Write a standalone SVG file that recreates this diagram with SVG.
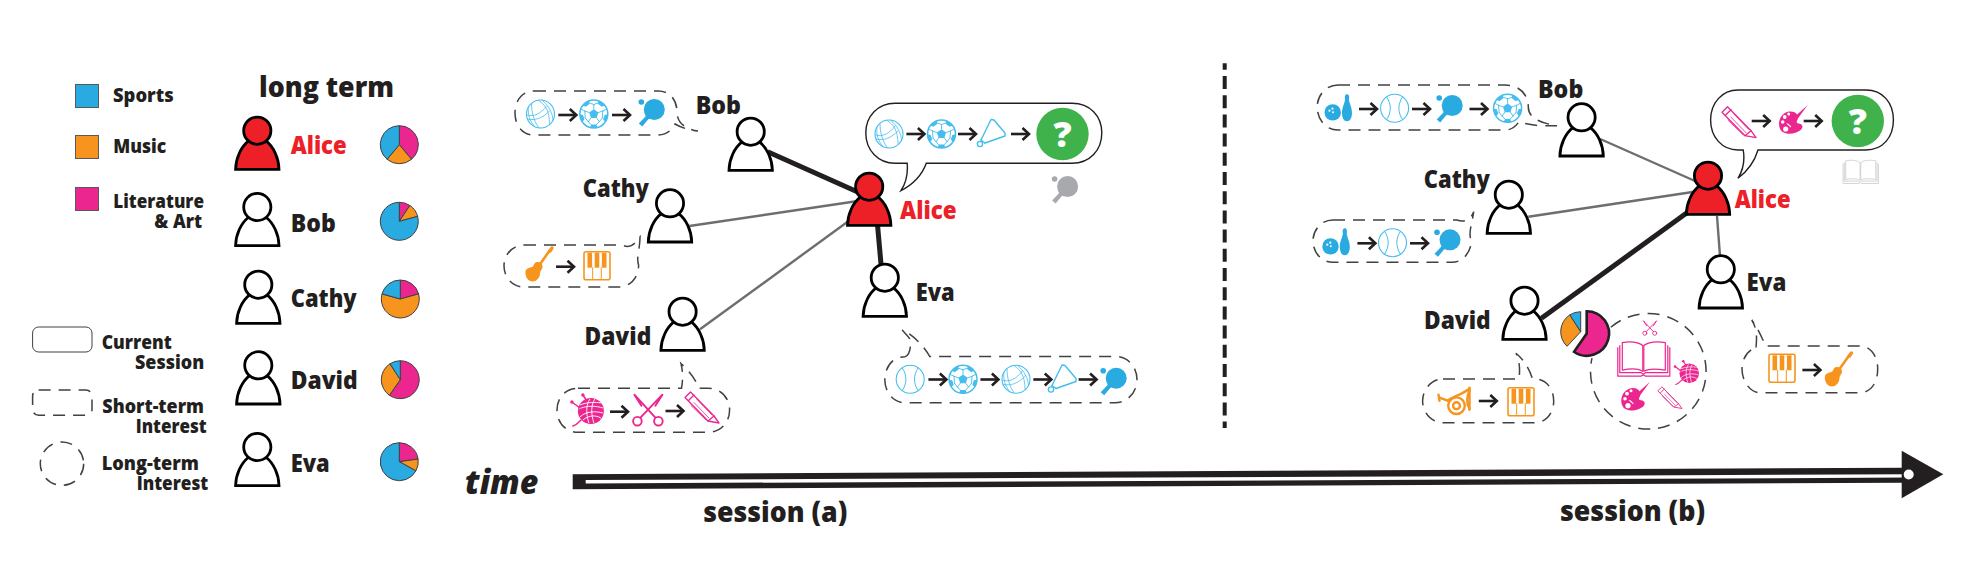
<svg xmlns="http://www.w3.org/2000/svg" width="1972" height="570" viewBox="0 0 1972 570">
<style>
text{font-family:"Open Sans","Noto Sans",sans-serif;font-weight:800;fill:#231F20}
.leg{font-size:19.5px}
.nm{font-size:25px}
.ti{font-size:28.5px}
.red{fill:#ED2027}
.blue{color:#29ABE2}
.lblue{color:#45BDEE}
.or{color:#F7941D}
.pk{color:#EC268F}
.gy{color:#A7A9AC}
.lg{color:#C9CBCD}
.w{fill:#fff}
.r{fill:#ED2027}
.dash{fill:#fff;stroke:#414042;stroke-width:1.5;stroke-dasharray:12 8}
.sol{fill:#fff;stroke:#231F20;stroke-width:1.4}
.edge{stroke-linecap:butt;fill:none}
.thick{stroke:#231F20;stroke-width:5}
.thin{stroke:#6D6E71;stroke-width:2.4}
.pie path{stroke:#414042;stroke-width:1}
.s{fill:#29ABE2}.m{fill:#F7941D}.l{fill:#EC268F}
.ico{fill:none;stroke:currentColor;stroke-linecap:round;stroke-linejoin:round}
.fil{fill:currentColor;stroke:none}
</style>
<defs>
<g id="person" stroke="#000" stroke-width="2.8" stroke-miterlimit="6"><path d="M-21.7,38.7C-21.5,27-16,16-9,10.5L9,10.5C16,16 21.5,27 21.7,38.7Z"/><circle r="13.6"/></g>
<g id="arw" fill="none" stroke="#231F20" stroke-width="2.6"><path d="M0,0H17"/><path d="M11.5,-6L18,0L11.5,6"/></g>
<g id="vball"><circle r="14" fill="#fff" stroke="currentColor" stroke-width="1.1"/><g class="ico" stroke-width=".8"><path d="M-2,-13.8C5,-9 9,-3 9,9.5"/><path d="M2,-13.5C8,-8 12,-2 12.5,6"/><path d="M-13,5C-5,7 2,4 9,-3"/><path d="M-13.5,1C-6,3 0,0 6,-8"/><path d="M-9,-10C-9,-2-7,6-2,13.5"/><path d="M-12,-7C-13,0-11,7-6,12.5"/></g></g>
<g id="soccer"><circle r="14" fill="#fff" stroke="currentColor" stroke-width="1.5"/><path class="fil" d="M0,-4.8L4.6,-1.5L2.8,3.9H-2.8L-4.6,-1.5Z"/><g class="fil"><path d="M-4,-13.4A14,14 0 0 1 4,-13.4L2.4,-10.6H-2.4Z" transform="rotate(36)"/><path d="M-4,-13.4A14,14 0 0 1 4,-13.4L2.4,-10.6H-2.4Z" transform="rotate(108)"/><path d="M-4,-13.4A14,14 0 0 1 4,-13.4L2.4,-10.6H-2.4Z" transform="rotate(180)"/><path d="M-4,-13.4A14,14 0 0 1 4,-13.4L2.4,-10.6H-2.4Z" transform="rotate(252)"/><path d="M-4,-13.4A14,14 0 0 1 4,-13.4L2.4,-10.6H-2.4Z" transform="rotate(324)"/></g><g class="ico" stroke-width=".9"><path d="M0,-5V-9.5"/><path d="M4.6,-1.5L9,-3"/><path d="M2.8,3.9L5.5,7.7"/><path d="M-2.8,3.9L-5.5,7.7"/><path d="M-4.6,-1.5L-9,-3"/><path d="M0,-9.5L-5.5,-11.5M0,-9.5L5.5,-11.5M9,-3L12.8,-5M9,-3L8.5,4M5.5,7.7L8.5,4M5.5,7.7L1,12.5M-5.5,7.7L-1,12.5M-5.5,7.7L-8.5,4M-9,-3L-8.5,4M-9,-3L-12.8,-5"/></g></g>
<g id="bball"><circle r="14" fill="#fff" stroke="currentColor" stroke-width="1.1"/><g class="ico" stroke-width="1"><path d="M-8,-11.5C-3,-4-3,4-8,11.5"/><path d="M8,-11.5C3,-4 3,4 8,11.5"/></g></g>
<g id="paddle"><circle class="fil" cx="3" cy="-3.5" r="10.5"/><path class="fil" d="M-5.5,0L-1.5,6L-3,6.3L-9,13.5L-12.5,10.5L-5.8,3.5Z"/><circle class="fil" cx="-10" cy="-11" r="2.8"/></g>
<g id="shuttle" class="ico" stroke-width="1.4"><path d="M-11,7L-1,-13.5L2,-13L13,0L13,3L-7,10"/><path d="M-11,7L-7,10"/><circle cx="-12" cy="11" r="2.6"/></g>
<g id="bowl"><circle class="fil" cx="-5.3" cy="4.7" r="8.2"/><path class="fil" d="M9,-13.5C11,-13.5 11.5,-11 11,-9C10.5,-6 14,-1 14,5C14,10 12,13.5 9,13.5C6,13.5 4,10 4,5C4,-1 7.5,-6 7,-9C6.5,-11 7,-13.5 9,-13.5Z"/><circle cx="-5.5" cy="1" r="1.1" fill="#fff"/><circle cx="-8.5" cy="3" r="1.1" fill="#fff"/><circle cx="-5" cy="4.5" r="1" fill="#fff"/></g>
<g id="guitar"><path class="fil" d="M-2,-3C2,-3 4,-1 3.5,2.5C3,5 1,5.5 1,8.5C1,13-3,17-7,16.5C-12,16-14,10-13.5,6.5C-13,3-9,2.5-7,2C-5,1.5-5,-3-2,-3Z"/><path class="ico" stroke-width="2.6" d="M-1,2L11,-15"/><path class="ico" stroke-width="3.4" d="M11,-14L13,-17"/></g>
<g id="piano"><rect x="-13" y="-14" width="26" height="28" rx="2" fill="#fff" stroke="currentColor" stroke-width="1.6"/><g class="fil"><rect x="-9.5" y="-13" width="4.6" height="15"/><rect x="-2.3" y="-13" width="4.6" height="15"/><rect x="4.9" y="-13" width="4.6" height="15"/></g><g class="ico" stroke-width="1"><path d="M-4.3,2V13.5M4.3,2V13.5"/></g></g>
<g id="yarn"><circle class="fil" cx="3" cy="1" r="13"/><g fill="none" stroke="#fff" stroke-width=".9"><path d="M-8,-5C-1,-8 8,-8 13,-7"/><path d="M-9,-1C-1,-5 9,-4 15,-2"/><path d="M-8,7C-2,1 8,1 15,3"/><path d="M-5,10C1,5 8,5 13,8"/><path d="M2,-11C-2,-5-2,4 1,13"/><path d="M7,-11C3,-5 3,4 6,13"/></g><g class="ico" stroke-width="1.5"><path d="M-16,-8L-8,-2"/><path d="M-5,-15L-1,-9"/><path d="M-15,16C-11,15-9,12-7,10"/></g><circle class="fil" cx="-16" cy="-8" r="1.7"/><circle class="fil" cx="-5" cy="-15" r="1.7"/></g>
<g id="scissors" class="ico" stroke-width="1.9"><circle cx="-11" cy="10.5" r="4.3"/><circle cx="10" cy="10.5" r="4.3"/><path d="M-8,7L14,-16L7,-5"/><path d="M7,7L-14,-16L-7,-5"/></g>
<g id="pencil" class="ico" stroke-width="1.3"><path fill="#fff" d="M-17,-10.5L-11.5,-16L12,8L17,15L6,13Z"/><path d="M-13.5,-7.5L-8,-13"/><path d="M-8,-5.5L7,10M-5,-8.5L10,7M-11,-2.5L4,12" stroke-width=".8"/><path d="M6,13L12,8"/></g>
<g id="palette"><path class="fil" d="M-4,-8.5C4,-9.5 6,-4 5,-1C4,2 3,3 6,3.5C10,4 11,7 8,10C3,14-5,15-10,12C-16,8-15,-6-4,-8.5Z"/><circle cx="-8" cy="-3" r="1.9" fill="#fff"/><circle cx="-4" cy="-6" r="1.5" fill="#fff"/><circle cx="-10" cy="2" r="1.8" fill="#fff"/><circle cx="-7" cy="9" r="2.6" fill="#fff"/><path d="M-6.5,3.5L-2,7.5L1,3Z" fill="#fff"/><path class="fil" d="M-5,3L15,-15L-1,7Z"/></g>
<g id="book" class="ico" stroke-width="1.2"><path d="M-25.5,-12V16.5H-2C-1,15 1,15 2,16.5H26.5V-12"/><path d="M-23.5,-14V13H-2L0,14.5L2,13H24.5V-14"/><path d="M-21,-17C-14,-18.5-5,-18-0.5,-14V11.5C-5,9-14,9-21,10.5Z"/><path d="M22,-17C15,-18.5 5,-18 0.5,-14V11.5C5,9 14,9 22,10.5Z"/></g>
<g id="horn" class="ico" stroke-width="2.4"><path d="M-16,-4L-8,-1C-3,-5 6,-7 14,-13"/><path d="M14,-14V8"/><path d="M14,-12C12,-5 10,1 14,7"/><circle cx="1" cy="4" r="8.3"/><circle cx="1" cy="4" r="3.4"/><path d="M-17,-7L-16,-1"/></g>
</defs>

<g id="legend">
<g id="legend-sports"><rect x="75.5" y="84.5" width="23" height="23" class="s" stroke="#58595B"/><text class="leg" x="113" y="101.7" textLength="60.7" lengthAdjust="spacingAndGlyphs">Sports</text></g>
<g id="legend-music"><rect x="75.5" y="135.5" width="23" height="23" class="m" stroke="#58595B"/><text class="leg" x="113.3" y="152.7" textLength="53" lengthAdjust="spacingAndGlyphs">Music</text></g>
<g id="legend-lit"><rect x="75.5" y="187.5" width="23" height="23" class="l" stroke="#58595B"/><text class="leg" x="113.3" y="207.7" textLength="90.7" lengthAdjust="spacingAndGlyphs">Literature</text><text class="leg" x="154.3" y="227.7" textLength="47.7" lengthAdjust="spacingAndGlyphs">&amp; Art</text></g>
<g id="legend-current"><rect x="32.6" y="327" width="59.4" height="25" rx="6" fill="#fff" stroke="#414042" stroke-width="1"/><text class="leg" x="101.7" y="349" textLength="70" lengthAdjust="spacingAndGlyphs">Current</text><text class="leg" x="135" y="369.3" textLength="69.3" lengthAdjust="spacingAndGlyphs">Session</text></g>
<g id="legend-short"><rect x="32.6" y="390" width="59.4" height="25.3" rx="6" class="dash"/><text class="leg" x="102.3" y="412.7" textLength="101.7" lengthAdjust="spacingAndGlyphs">Short-term</text><text class="leg" x="135.7" y="432.7" textLength="71" lengthAdjust="spacingAndGlyphs">Interest</text></g>
<g id="legend-long"><circle cx="62" cy="463.7" r="21.7" class="dash"/><text class="leg" x="101.7" y="470" textLength="97.3" lengthAdjust="spacingAndGlyphs">Long-term</text><text class="leg" x="136.7" y="490" textLength="71.6" lengthAdjust="spacingAndGlyphs">Interest</text></g>
<text x="259" y="97.3" class="ti" textLength="135" lengthAdjust="spacingAndGlyphs">long term</text>
</g>

<g id="lt-alice"><use href="#person" class="r" x="257.3" y="130.7"/><text class="nm red" x="290.7" y="154.3" textLength="56" lengthAdjust="spacingAndGlyphs">Alice</text>
<g class="pie" transform="translate(399.3,144.7)"><path class="l" d="M0,0V-19A19,19 0 0 1 12.2,14.6Z"/><path class="m" d="M0,0L12.2,14.6A19,19 0 0 1 -12.2,14.6Z"/><path class="s" d="M0,0L-12.2,14.6A19,19 0 0 1 0,-19Z"/></g></g>
<g id="lt-bob"><use href="#person" class="w" x="257.3" y="207"/><text class="nm" x="290.7" y="231.7" textLength="45" lengthAdjust="spacingAndGlyphs">Bob</text>
<g class="pie" transform="translate(399.3,221.3)"><path class="l" d="M0,0V-19A19,19 0 0 1 10.6,-15.8Z"/><path class="m" d="M0,0L10.6,-15.8A19,19 0 0 1 18.35,-4.9Z"/><path class="s" d="M0,0L18.35,-4.9A19,19 0 1 1 0,-19Z"/></g></g>
<g id="lt-cathy"><use href="#person" class="w" x="258.3" y="284.7"/><text class="nm" x="290.7" y="306.7" textLength="66" lengthAdjust="spacingAndGlyphs">Cathy</text>
<g class="pie" transform="translate(400.3,299)"><path class="l" d="M0,0V-19A19,19 0 0 1 18.3,-5.1Z"/><path class="m" d="M0,0L18.3,-5.1A19,19 0 1 1 -18.3,-5.1Z"/><path class="s" d="M0,0L-18.3,-5.1A19,19 0 0 1 0,-19Z"/></g></g>
<g id="lt-david"><use href="#person" class="w" x="258.3" y="365.3"/><text class="nm" x="290.7" y="389" textLength="67" lengthAdjust="spacingAndGlyphs">David</text>
<g class="pie" transform="translate(400.3,379.7)"><path class="l" d="M0,0V-19A19,19 0 1 1 -10.9,15.6Z"/><path class="m" d="M0,0L-10.9,15.6A19,19 0 0 1 -10.3,-15.9Z"/><path class="s" d="M0,0L-10.3,-15.9A19,19 0 0 1 0,-19Z"/></g></g>
<g id="lt-eva"><use href="#person" class="w" x="257.3" y="447"/><text class="nm" x="290.7" y="471.7" textLength="39" lengthAdjust="spacingAndGlyphs">Eva</text>
<g class="pie" transform="translate(399.3,461.7)"><path class="l" d="M0,0V-19A19,19 0 0 1 18.8,-2.6Z"/><path class="m" d="M0,0L18.8,-2.6A19,19 0 0 1 16.6,9.2Z"/><path class="s" d="M0,0L16.6,9.2A19,19 0 1 1 0,-19Z"/></g></g>

<g id="connectors">
<path class="edge thick" d="M767.6,151.7L860,193"/>
<path class="edge thin" d="M689.4,226L858,201"/>
<path class="edge thin" d="M700,329.3L848,221.5"/>
<path class="edge thick" d="M877.6,226L881,264"/>
<path class="edge thin" d="M1600.2,139L1695,181"/>
<path class="edge thin" d="M1528.3,216.7L1696,191.5"/>
<path class="edge thick" d="M1541.4,318.3L1688,212"/>
<path class="edge thin" d="M1717,216L1720,256"/>
</g>

<g id="session-a">
<g id="a-bob"><use href="#person" class="w" x="750.7" y="131.7"/><text class="nm" x="695.7" y="114.3" textLength="45.3" lengthAdjust="spacingAndGlyphs">Bob</text></g>
<g id="a-cathy"><use href="#person" class="w" x="670" y="203.3"/><text class="nm" x="582.8" y="196.7" textLength="66.2" lengthAdjust="spacingAndGlyphs">Cathy</text></g>
<g id="a-david"><use href="#person" class="w" x="682.6" y="311.7"/><text class="nm" x="584.5" y="345.3" textLength="66.8" lengthAdjust="spacingAndGlyphs">David</text></g>
<g id="a-eva"><use href="#person" class="w" x="884.8" y="277.7"/><text class="nm" x="915.7" y="300.7" textLength="39" lengthAdjust="spacingAndGlyphs">Eva</text></g>
<g id="a-alice"><use href="#person" class="r" x="869.2" y="186.7"/><text class="nm red" x="900" y="219.3" textLength="56.7" lengthAdjust="spacingAndGlyphs">Alice</text></g>

<g id="a-bob-bubble"><path class="dash" d="M534,91H658C670,91 677,100 677,112C677,122 684,129 698,131C688,130 680,127 675,124C672,129 668,135 658,135H534C522,135 515,125 515,113C515,101 522,91 534,91Z"/>
<use href="#vball" class="lblue" x="540.5" y="114"/><use href="#arw" x="558.3" y="115"/><use href="#soccer" class="lblue" x="593.8" y="114"/><use href="#arw" x="612" y="115"/><use href="#paddle" class="blue" x="651.3" y="113"/></g>

<g id="a-alice-bubble"><path class="sol" d="M895,103.3H1072C1090,103.3 1101.8,116 1101.8,133C1101.8,150 1090,163.3 1072,163.3H926.3C922,175 912,185 900.9,190.7C906,183 908,173 907.2,163.3H895C878,163.3 865.8,150 865.8,133C865.8,116 878,103.3 895,103.3Z"/>
<use href="#vball" class="lblue" x="889" y="134"/><use href="#arw" x="906.4" y="134"/><use href="#soccer" class="lblue" x="941.5" y="134"/><use href="#arw" x="958" y="134"/><use href="#shuttle" class="lblue" x="992" y="133"/><use href="#arw" x="1011" y="134"/>
<circle cx="1062.5" cy="134" r="26.2" fill="#3FB24B"/><text x="1062.5" y="147" text-anchor="middle" font-size="36" style="fill:#fff">?</text>
<use href="#paddle" class="gy" x="1064.6" y="190"/></g>

<g id="a-cathy-bubble"><path class="dash" d="M524,245H622C628,248 634,246 637,240L640,236.7C640,250 636,258 638.6,265C638.6,278 630,287 618,287H524C512,287 504,277 504,266C504,255 512,245 524,245Z"/>
<use href="#guitar" class="or" x="539" y="265"/><use href="#arw" x="556" y="266.7"/><use href="#piano" class="or" x="597" y="265.7"/></g>

<g id="a-david-bubble"><path class="dash" d="M578,388.3H681.5C683,380 683,372 681,363.5C688,370 695,378 699,388.3H708C721,388.3 729.6,398 729.6,410C729.6,422 721,432.3 708,432.3H578C565,432.3 557,422 557,410C557,398 565,388.3 578,388.3Z"/>
<use href="#yarn" class="pk" x="587.9" y="410"/><use href="#arw" x="610" y="411.7"/><use href="#scissors" class="pk" x="648.4" y="410.7"/><use href="#arw" x="665.5" y="411"/><use href="#pencil" class="pk" x="702" y="408"/></g>

<g id="a-eva-bubble"><path class="dash" d="M905,356.7C910,356 911,345 910.6,340C908,336 905,333 902.2,330C912,334 924,346 929.7,356.5H1115C1129,356.5 1137,368 1137,379.5C1137,391 1129,402.7 1115,402.7H905C892,402.7 884.8,391 884.8,379.5C884.8,368 892,356.7 905,356.7Z"/>
<use href="#bball" class="lblue" x="910.2" y="379.3"/><use href="#arw" x="928.4" y="379.5"/><use href="#soccer" class="lblue" x="963" y="379.3"/><use href="#arw" x="980.4" y="379.5"/><use href="#vball" class="lblue" x="1016" y="379.3"/><use href="#arw" x="1033.3" y="379.5"/><use href="#shuttle" class="lblue" x="1063" y="378.5"/><use href="#arw" x="1078.6" y="379.5"/><use href="#paddle" class="blue" x="1113.2" y="381.7"/></g>
</g>

<path id="divider" d="M1224.7,63.3V428" fill="none" stroke="#231F20" stroke-width="4" stroke-dasharray="6.5 6.2 13 6.2 13 6.2 13 6.2 13 6.2 13 6.2 13 6.2 13 6.2 13 6.2 13 6.2 13 6.2 13 6.2 13 6.2 13 6.2 13 6.2 13 6.2 13 6.2 13 6.2 13 6.2 6.5 100"/>

<g id="session-b">
<g id="b-bob"><use href="#person" class="w" x="1581.6" y="117.3"/><text class="nm" x="1538" y="98.3" textLength="45.3" lengthAdjust="spacingAndGlyphs">Bob</text></g>
<g id="b-cathy"><use href="#person" class="w" x="1508.8" y="194.7"/><text class="nm" x="1423.8" y="187.7" textLength="66.2" lengthAdjust="spacingAndGlyphs">Cathy</text></g>
<g id="b-david"><use href="#person" class="w" x="1524.5" y="300.7"/><text class="nm" x="1424" y="329" textLength="66.7" lengthAdjust="spacingAndGlyphs">David</text></g>
<g id="b-eva"><use href="#person" class="w" x="1720.8" y="269.3"/><text class="nm" x="1746.6" y="290.7" textLength="39.7" lengthAdjust="spacingAndGlyphs">Eva</text></g>
<g id="b-alice"><use href="#person" class="r" x="1708" y="175.7"/><text class="nm red" x="1734.7" y="207.7" textLength="55.9" lengthAdjust="spacingAndGlyphs">Alice</text></g>

<g id="b-bob-bubble"><path class="dash" d="M1338,85H1505C1520,85 1528.3,95 1528.3,107C1528.3,115 1534,122 1557,125.7C1545,126 1530,126 1519,121.7C1516,126 1512,130 1505,130H1338C1326,130 1317.2,120 1317.2,107C1317.2,95 1326,85 1338,85Z"/>
<use href="#bowl" class="blue" x="1338" y="107.7"/><use href="#arw" x="1359" y="109"/><use href="#bball" class="lblue" x="1394.6" y="108.3"/><use href="#arw" x="1412" y="109"/><use href="#paddle" class="blue" x="1449.2" y="109"/><use href="#arw" x="1469.5" y="109"/><use href="#soccer" class="lblue" x="1507.6" y="108.3"/></g>

<g id="b-alice-bubble"><path class="sol" d="M1738,90H1866C1883,90 1893.4,103 1893.4,120C1893.4,137 1883,150 1866,150H1758C1755,160 1749,170 1738,178.3C1743,170 1745,160 1743.2,150H1738C1722,150 1710.6,137 1710.6,120C1710.6,103 1722,90 1738,90Z"/>
<use href="#pencil" class="pk" x="1739" y="122.7"/><use href="#arw" x="1751.7" y="121"/><use href="#palette" class="pk" x="1792.7" y="120"/><use href="#arw" x="1803.7" y="121"/>
<circle cx="1857.8" cy="121" r="26.2" fill="#3FB24B"/><text x="1857.8" y="134" text-anchor="middle" font-size="36" style="fill:#fff">?</text>
<use href="#book" class="lg" transform="translate(1860.4,172.3) scale(.68)"/></g>

<g id="b-cathy-bubble"><path class="dash" d="M1333,220H1457C1462,222 1470,222 1473.7,211.7C1472,225 1468,232 1471.2,241C1471.2,252 1463,262.3 1452,262.3H1333C1321,262.3 1313,252 1313,241C1313,230 1321,220 1333,220Z"/>
<use href="#bowl" class="blue" x="1335.8" y="241.7"/><use href="#arw" x="1357.4" y="243.3"/><use href="#bball" class="lblue" x="1392.5" y="242.7"/><use href="#arw" x="1410" y="243.3"/><use href="#paddle" class="blue" x="1447" y="243.3"/></g>

<g id="b-david-bubble"><path class="dash" d="M1443,379H1519C1520,370 1520,362 1516,353.3C1524,360 1529,368 1532.5,379H1535C1547,379 1553.7,390 1553.7,401C1553.7,412 1547,422.7 1535,422.7H1443C1431,422.7 1422.6,412 1422.6,401C1422.6,390 1431,379 1443,379Z"/>
<use href="#horn" class="or" x="1455.5" y="401.7"/><use href="#arw" x="1478.8" y="401"/><use href="#piano" class="or" x="1521" y="401.7"/></g>

<g id="b-eva-bubble"><path class="dash" d="M1756,347.5C1757,338 1757,328 1751.7,320C1758,328 1762,338 1765.6,346H1860C1872,346 1877.7,358 1877.7,369C1877.7,381 1872,392.7 1860,392.7H1760C1750,392.7 1742,381 1742,369C1742,358 1748,350 1756,347.5Z"/>
<use href="#piano" class="or" x="1782" y="368.3"/><use href="#arw" x="1802.4" y="370"/><use href="#guitar" class="or" x="1838.4" y="370"/></g>

<g id="b-long-term"><path class="dash" style="fill:none" d="M1610.8,327.3A57.8,57.8 0 1 1 1592,358.2"/>
<use href="#scissors" class="pk" transform="translate(1650,328.3) scale(.47)"/>
<use href="#book" class="pk" x="1643.3" y="359.7"/>
<use href="#yarn" class="pk" transform="translate(1687,372.5) scale(.75)"/>
<use href="#palette" class="pk" x="1635" y="396.7"/>
<use href="#pencil" class="pk" transform="translate(1670,398) scale(.7)"/>
<path d="M1586.7,311.2A22.3,22.3 0 1 1 1574,351.8L1586.7,333.5Z" fill="#EC268F" stroke="#231F20" stroke-width="2.6"/>
<g class="pie" transform="translate(1580.7,331.7)"><path class="m" d="M0,0L-13.6,14.6A20,20 0 0 1 -10.9,-16.8Z"/><path class="s" d="M0,0L-10.9,-16.8A20,20 0 0 1 0,-20Z"/></g>
</g>
</g>

<g id="timeline">
<path d="M572.7,474.3L1903,467.7V482.7L572.7,489.3Z" fill="#231F20"/>
<path d="M585.7,481.7L1908,475.9" stroke="#fff" stroke-width="3.4" fill="none"/>
<path d="M1901.7,450.7L1943.3,474.3L1901.7,498.3Z" fill="#231F20"/>
<circle cx="1908.7" cy="474.5" r="5" fill="#fff"/>
<text x="465" y="494.3" font-size="33" font-style="italic" textLength="73.3" lengthAdjust="spacingAndGlyphs">time</text>
<text x="703.3" y="521.7" class="ti" textLength="144" lengthAdjust="spacingAndGlyphs">session (a)</text>
<text x="1560" y="520.7" class="ti" textLength="145" lengthAdjust="spacingAndGlyphs">session (b)</text>
</g>
</svg>
